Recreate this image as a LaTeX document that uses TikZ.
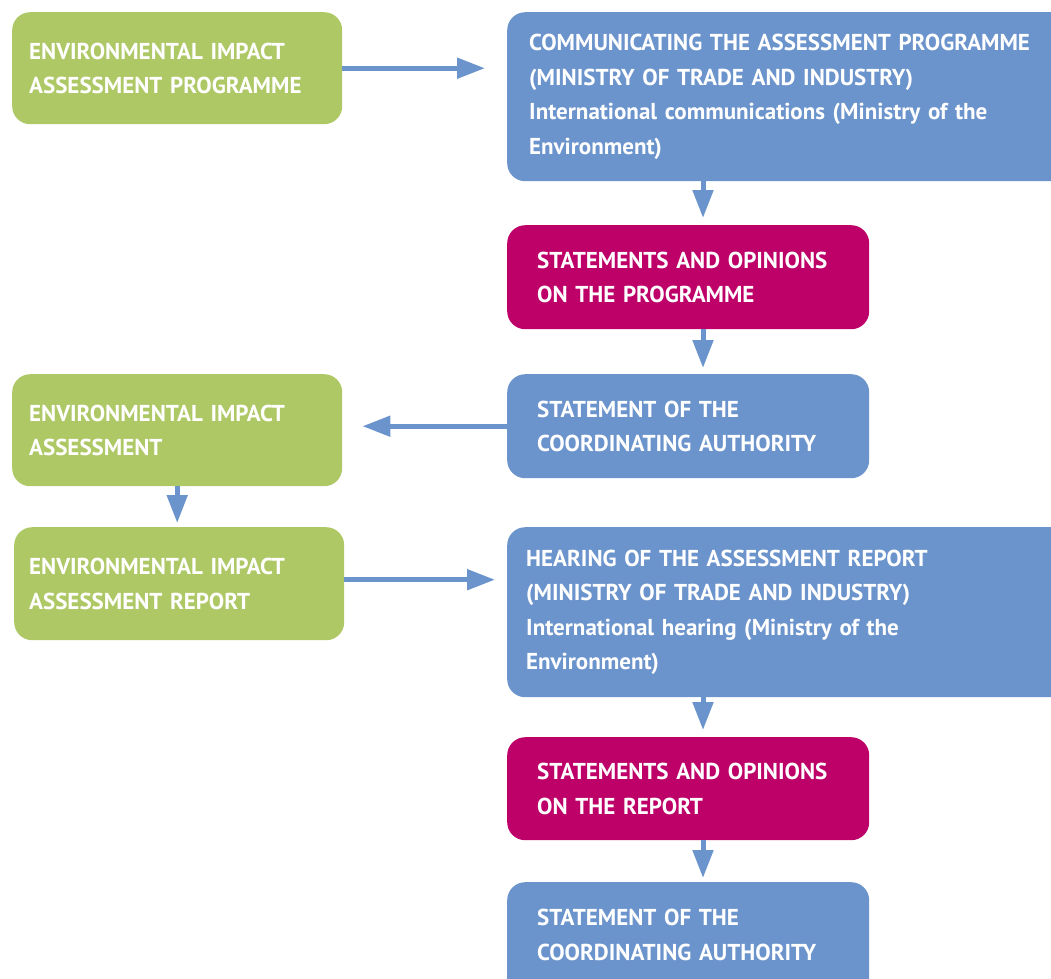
\documentclass[tikz,border=0pt]{standalone}
\usepackage{fontspec}
\setmainfont{PT Sans}
\usetikzlibrary{arrows.meta,calc}
\definecolor{eiagreen}{HTML}{AEC866}
\definecolor{eiablue}{HTML}{6C94CC}
\definecolor{eiamag}{HTML}{BE0069}
\tikzset{
  box/.style={rounded corners=18pt, draw=none, text=white, align=left,
    font=\fontsize{23}{34.5}\selectfont\bfseries, anchor=north west},
  gbox/.style={box, fill=eiagreen, inner xsep=17pt},
  bbox/.style={box, fill=eiablue, inner xsep=22pt},
  mbox/.style={box, fill=eiamag, inner xsep=30pt},
  flow/.style={draw=eiablue, line width=5pt,
    -{Triangle[length=28pt,width=20pt]}},
}
\begin{document}
\begin{tikzpicture}[x=1pt,y=-1pt]
\useasboundingbox (0,0) rectangle (1051,978);
\clip (0,0) rectangle (1051,978);
\coordinate (xv) at (703,0);
% left column
\node[gbox, minimum width=330pt, minimum height=112pt, text width=296pt] (g1) at (12,12)
  {ENVIRONMENTAL IMPACT\\ASSESSMENT PROGRAMME};
\node[gbox, minimum width=330pt, minimum height=112pt, text width=296pt] (g2) at (12,374)
  {ENVIRONMENTAL IMPACT\\ASSESSMENT};
\node[gbox, inner xsep=15pt, minimum width=330pt, minimum height=113pt, text width=300pt] (g3) at (14,527)
  {ENVIRONMENTAL IMPACT\\ASSESSMENT REPORT};
% right column
\node[bbox, minimum width=580pt, minimum height=169pt, text width=536pt] (b1) at (507,12)
  {COMMUNICATING THE ASSESSMENT PROGRAMME\\(MINISTRY OF TRADE AND INDUSTRY)\\International communications (Ministry of the\\Environment)};
\node[mbox, minimum width=362pt, minimum height=104pt, text width=302pt] (m1) at (507,225)
  {STATEMENTS AND OPINIONS\\ON THE PROGRAMME};
\node[mbox, fill=eiablue, minimum width=362pt, minimum height=104pt, text width=302pt] (b2) at (507,374)
  {STATEMENT OF THE\\COORDINATING AUTHORITY};
\node[bbox, inner xsep=19pt, minimum width=580pt, minimum height=170pt, text width=542pt] (b3) at (507,527)
  {HEARING OF THE ASSESSMENT REPORT\\(MINISTRY OF TRADE AND INDUSTRY)\\International hearing (Ministry of the\\Environment)};
\node[mbox, minimum width=362pt, minimum height=103pt, text width=302pt] (m2) at (507,737)
  {STATEMENTS AND OPINIONS\\ON THE REPORT};
\node[mbox, fill=eiablue, minimum width=362pt, minimum height=140pt, text width=302pt] (b4) at (507,882)
  {\vphantom{C}\\[-34.5pt]STATEMENT OF THE\\COORDINATING AUTHORITY\\\vphantom{C}};
% connectors
\draw[flow, shorten >=22pt] (g1.east) -- (b1.west |- g1.east);
\draw[flow, shorten >=7pt] (b1.south -| xv) -- (m1.north -| xv);
\draw[flow, shorten >=6pt] (m1.south -| xv) -- (b2.north -| xv);
\draw[flow, shorten >=20pt] (b2.west) -- (g2.east |- b2.west);
\draw[flow, shorten >=4pt] (g2.south) -- (g3.north -| g2.south);
\draw[flow, shorten >=12pt] ([yshift=4pt]g3.east) -- ([yshift=4pt]b3.west |- g3.east);
\draw[flow, shorten >=7pt] (b3.south -| xv) -- (m2.north -| xv);
\draw[flow, shorten >=4pt] (m2.south -| xv) -- (b4.north -| xv);
\end{tikzpicture}
\end{document}
